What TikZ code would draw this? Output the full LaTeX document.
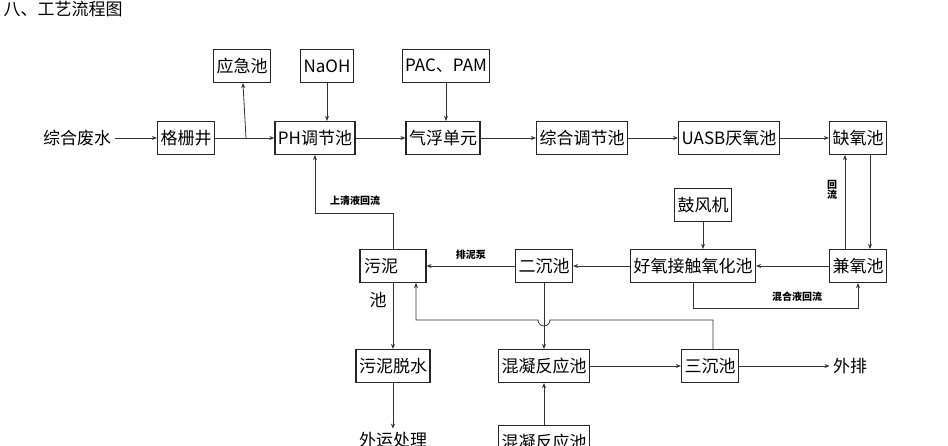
\documentclass[tikz,border=0pt]{standalone}
\usepackage{fontspec}
\setmainfont{Noto Sans CJK SC}
\usetikzlibrary{arrows.meta}
\tikzset{%
  flow/.style={->, >={Stealth[length=5pt,width=4pt]}, line width=0.8pt, draw=black!80},
  unit/.style={draw=black!85, line width=1.2pt, minimum height=33pt, inner xsep=3pt, font=\fontsize{17}{17}\selectfont},
  plain/.style={font=\fontsize{17}{17}\selectfont},
  tag/.style={font=\bfseries\fontsize{10}{10}\selectfont}
}
\begin{document}
\begin{tikzpicture}[x=1pt,y=-1pt]
  \useasboundingbox (0,0) rectangle (948,445);

\node [plain, anchor=west] (title) at (0,9) {八、工艺流程图};
\node [plain] (raw) at (77,138) {综合废水};
\node [unit] (grid) at (186,138) {格栅井};
\node [unit] (emerg) at (242,66) {应急池};
\node [unit] (naoh) at (327,66) {NaOH};
\node [unit] (ph) at (315,138) {PH调节池};
\node [unit] (pac) at (446,66) {PAC、PAM};
\node [unit] (air) at (443,138) {气浮单元};
\node [unit] (mix) at (582,138) {综合调节池};
\node [unit] (uasb) at (729,138) {UASB厌氧池};
\node [unit] (anox) at (858,138) {缺氧池};
\node [unit] (blow) at (703,205) {鼓风机};
\node [unit] (aero) at (693,266) {好氧接触氧化池};
\node [unit] (facul) at (858,266) {兼氧池};
\node [unit] (sec) at (544,266) {二沉池};
\node [unit, minimum width=66pt, text width=58pt] (sludge) at (393,266) {污泥};
\node [plain] (sludgeb) at (378,300) {池};
\node [unit] (dewat) at (393,366) {污泥脱水};
\node [plain] (haul) at (393,440) {外运处理};
\node [unit] (coag) at (544,366) {混凝反应池};
\node [unit] (coagb) at (544,442) {混凝反应池};
\node [unit] (third) at (710,366) {三沉池};
\node [plain] (out) at (850,366) {外排};

% main line
\coordinate (split) at (246,138);
\draw [flow] (raw) -- (grid);
\draw [flow] (grid) -- (ph);
\draw [flow] (split) -- (emerg);
\draw [flow] (naoh) -- (naoh.south |- ph.north);
\draw [flow] (pac) -- (pac.south |- air.north);
\draw [flow] (ph) -- (air);
\draw [flow] (air) -- (mix);
\draw [flow] (mix) -- (uasb);
\draw [flow] (uasb) -- (anox);

% return loops
\draw [flow] (anox.south -| 870,0) -- (facul.north -| 870,0);
\draw [flow] (facul.north -| 845,0) -- (anox.south -| 845,0);
\node [tag, align=center] (ret) at (832,190) {回\\流};
\draw [flow] (blow) -- (blow.south |- aero.north);
\draw [flow] (facul) -- (aero);
\draw [flow] (aero) -- (sec);
\draw [flow] (sec) -- (sludge) node [tag, midway, above=3pt] {排泥泵};
\draw [flow] (aero.south) -- ++(0,25) -| (facul.south);
\node [tag] (mixret) at (797,297) {混合液回流};
\draw [flow] (sludge.north) -- ++(0,-36) -| (ph.south);
\node [tag] (upret) at (355,201) {上清液回流};

% lower part
\draw [flow] (sec) -- (coag);
\draw [flow] (third.north -| 713,0) |- (550,320) arc (0:180:6) -- (416,320) -- (sludge.south -| 416,0);
\draw [flow] (sludge.south) -- (dewat);
\draw [flow] (dewat) -- (haul);
\draw [flow] (coag) -- (third);
\draw [flow] (third) -- (out);
\draw [flow] (coagb) -- (coag);
\end{tikzpicture}
\end{document}
